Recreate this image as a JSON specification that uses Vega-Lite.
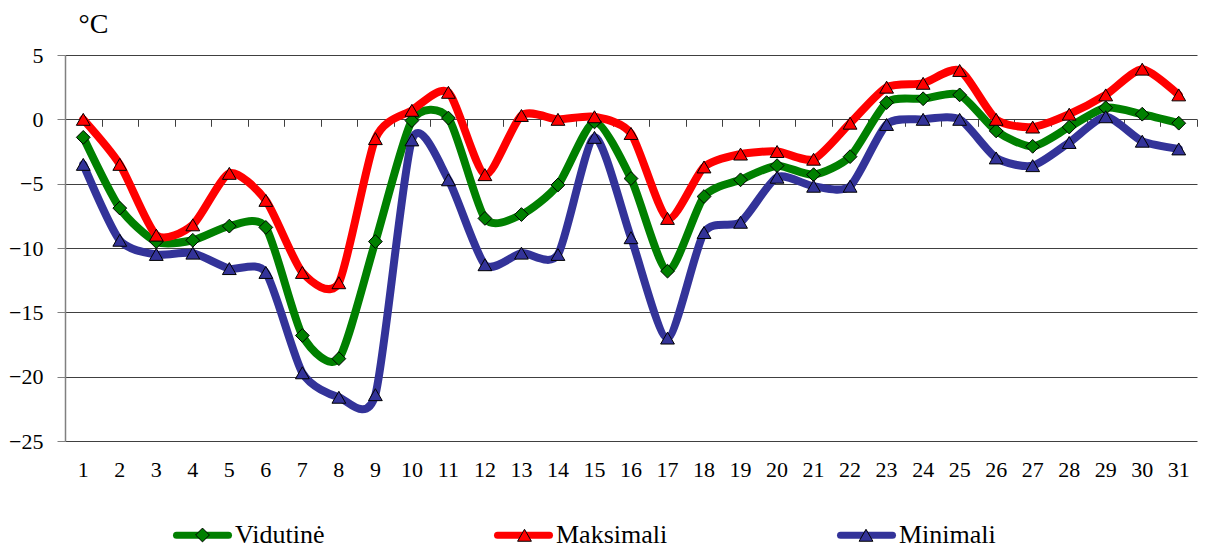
{
  "$schema": "https://vega.github.io/schema/vega-lite/v6.json",
  "width": 1132,
  "height": 386,
  "autosize": {"type": "none"},
  "padding": {"left": 65, "top": 55, "right": 10, "bottom": 111},
  "background": "white",
  "config": {"view": {"stroke": null}, "font": "Liberation Serif, Times New Roman, serif"},
  "data": {
    "values": [
      {"d": 1, "s": "Vidutinė", "t": -1.4}, {"d": 2, "s": "Vidutinė", "t": -6.9}, {"d": 3, "s": "Vidutinė", "t": -9.5}, {"d": 4, "s": "Vidutinė", "t": -9.4}, {"d": 5, "s": "Vidutinė", "t": -8.3}, {"d": 6, "s": "Vidutinė", "t": -8.4}, {"d": 7, "s": "Vidutinė", "t": -16.8}, {"d": 8, "s": "Vidutinė", "t": -18.6}, {"d": 9, "s": "Vidutinė", "t": -9.5}, {"d": 10, "s": "Vidutinė", "t": -0.1}, {"d": 11, "s": "Vidutinė", "t": 0.1}, {"d": 12, "s": "Vidutinė", "t": -7.7}, {"d": 13, "s": "Vidutinė", "t": -7.4}, {"d": 14, "s": "Vidutinė", "t": -5.1}, {"d": 15, "s": "Vidutinė", "t": -0.2}, {"d": 16, "s": "Vidutinė", "t": -4.6}, {"d": 17, "s": "Vidutinė", "t": -11.8}, {"d": 18, "s": "Vidutinė", "t": -6.0}, {"d": 19, "s": "Vidutinė", "t": -4.7}, {"d": 20, "s": "Vidutinė", "t": -3.6}, {"d": 21, "s": "Vidutinė", "t": -4.3}, {"d": 22, "s": "Vidutinė", "t": -2.9}, {"d": 23, "s": "Vidutinė", "t": 1.3}, {"d": 24, "s": "Vidutinė", "t": 1.6}, {"d": 25, "s": "Vidutinė", "t": 1.9}, {"d": 26, "s": "Vidutinė", "t": -0.9}, {"d": 27, "s": "Vidutinė", "t": -2.1}, {"d": 28, "s": "Vidutinė", "t": -0.6}, {"d": 29, "s": "Vidutinė", "t": 0.9}, {"d": 30, "s": "Vidutinė", "t": 0.4}, {"d": 31, "s": "Vidutinė", "t": -0.3},
      {"d": 1, "s": "Maksimali", "t": 0.0}, {"d": 2, "s": "Maksimali", "t": -3.5}, {"d": 3, "s": "Maksimali", "t": -9.0}, {"d": 4, "s": "Maksimali", "t": -8.2}, {"d": 5, "s": "Maksimali", "t": -4.2}, {"d": 6, "s": "Maksimali", "t": -6.3}, {"d": 7, "s": "Maksimali", "t": -11.9}, {"d": 8, "s": "Maksimali", "t": -12.7}, {"d": 9, "s": "Maksimali", "t": -1.5}, {"d": 10, "s": "Maksimali", "t": 0.7}, {"d": 11, "s": "Maksimali", "t": 2.1}, {"d": 12, "s": "Maksimali", "t": -4.3}, {"d": 13, "s": "Maksimali", "t": 0.3}, {"d": 14, "s": "Maksimali", "t": 0.0}, {"d": 15, "s": "Maksimali", "t": 0.2}, {"d": 16, "s": "Maksimali", "t": -1.1}, {"d": 17, "s": "Maksimali", "t": -7.7}, {"d": 18, "s": "Maksimali", "t": -3.7}, {"d": 19, "s": "Maksimali", "t": -2.7}, {"d": 20, "s": "Maksimali", "t": -2.5}, {"d": 21, "s": "Maksimali", "t": -3.1}, {"d": 22, "s": "Maksimali", "t": -0.3}, {"d": 23, "s": "Maksimali", "t": 2.5}, {"d": 24, "s": "Maksimali", "t": 2.8}, {"d": 25, "s": "Maksimali", "t": 3.8}, {"d": 26, "s": "Maksimali", "t": 0.0}, {"d": 27, "s": "Maksimali", "t": -0.6}, {"d": 28, "s": "Maksimali", "t": 0.4}, {"d": 29, "s": "Maksimali", "t": 1.9}, {"d": 30, "s": "Maksimali", "t": 3.9}, {"d": 31, "s": "Maksimali", "t": 1.9},
      {"d": 1, "s": "Minimali", "t": -3.5}, {"d": 2, "s": "Minimali", "t": -9.4}, {"d": 3, "s": "Minimali", "t": -10.5}, {"d": 4, "s": "Minimali", "t": -10.4}, {"d": 5, "s": "Minimali", "t": -11.6}, {"d": 6, "s": "Minimali", "t": -11.9}, {"d": 7, "s": "Minimali", "t": -19.7}, {"d": 8, "s": "Minimali", "t": -21.6}, {"d": 9, "s": "Minimali", "t": -21.4}, {"d": 10, "s": "Minimali", "t": -1.6}, {"d": 11, "s": "Minimali", "t": -4.7}, {"d": 12, "s": "Minimali", "t": -11.3}, {"d": 13, "s": "Minimali", "t": -10.4}, {"d": 14, "s": "Minimali", "t": -10.5}, {"d": 15, "s": "Minimali", "t": -1.4}, {"d": 16, "s": "Minimali", "t": -9.2}, {"d": 17, "s": "Minimali", "t": -17.0}, {"d": 18, "s": "Minimali", "t": -8.8}, {"d": 19, "s": "Minimali", "t": -8.0}, {"d": 20, "s": "Minimali", "t": -4.5}, {"d": 21, "s": "Minimali", "t": -5.2}, {"d": 22, "s": "Minimali", "t": -5.2}, {"d": 23, "s": "Minimali", "t": -0.4}, {"d": 24, "s": "Minimali", "t": 0.0}, {"d": 25, "s": "Minimali", "t": 0.0}, {"d": 26, "s": "Minimali", "t": -3.0}, {"d": 27, "s": "Minimali", "t": -3.6}, {"d": 28, "s": "Minimali", "t": -1.8}, {"d": 29, "s": "Minimali", "t": 0.2}, {"d": 30, "s": "Minimali", "t": -1.7}, {"d": 31, "s": "Minimali", "t": -2.3}
    ]
  },
  "layer": [
    {
      "mark": {"type": "line", "interpolate": "cardinal", "tension": 0.3, "strokeWidth": 8, "strokeCap": "round", "strokeJoin": "round"},
      "encoding": {
        "x": {
          "field": "d", "type": "ordinal",
          "scale": {"type": "band", "paddingInner": 0, "paddingOuter": 0},
          "axis": {"title": null, "labelAngle": 0, "ticks": false, "tickSize": 0, "domain": false, "grid": false, "labelFont": "Liberation Serif, Times New Roman, serif", "labelFontSize": 22, "labelColor": "black", "labelPadding": 18}
        },
        "y": {
          "field": "t", "type": "quantitative",
          "scale": {"domain": [-25, 5], "nice": false, "zero": false},
          "axis": {
            "values": [-25, -20, -15, -10, -5, 0, 5],
            "title": "°C", "titleAngle": 0, "titleAlign": "left", "titleBaseline": "alphabetic", "titleX": 13, "titleY": -23,
            "titleFont": "Liberation Serif, Times New Roman, serif", "titleFontSize": 28, "titleFontWeight": "normal", "titleColor": "black",
            "grid": true, "gridColor": "#404040", "gridOpacity": 1, "gridWidth": 1,
            "domainColor": "#808080", "domainWidth": 1.5, "tickColor": "#808080", "tickSize": 8, "tickWidth": 1,
            "labelFont": "Liberation Serif, Times New Roman, serif", "labelFontSize": 22, "labelColor": "black", "labelPadding": 14
          }
        },
        "stroke": {
          "field": "s", "type": "nominal",
          "scale": {"domain": ["Maksimali", "Minimali", "Vidutinė"], "range": ["#FF0000", "#333399", "#008000"]},
          "legend": {
            "title": null, "orient": "none", "legendX": 108, "legendY": 450.5, "direction": "horizontal", "columns": 3,
            "columnPadding": 158, "values": ["Vidutinė", "Maksimali", "Minimali"],
            "symbolType": "stroke", "symbolSize": 2704, "symbolStrokeWidth": 7,
            "labelFont": "Liberation Serif, Times New Roman, serif", "labelFontSize": 26, "labelColor": "black", "labelOffset": 3, "labelLimit": 400,
            "padding": 0, "zindex": 1,
            "encode": {"symbols": {"update": {"strokeCap": {"value": "round"}}}}
          }
        }
      }
    },
    {
      "mark": {"type": "point", "filled": true, "stroke": "black", "strokeWidth": 1, "size": 190, "opacity": 1},
      "encoding": {
        "x": {
          "field": "d", "type": "ordinal",
          "axis": {"title": null, "orient": "bottom", "offset": -321.7, "labels": false, "domain": false, "grid": false, "ticks": true, "tickSize": 7, "tickColor": "#404040", "tickWidth": 1, "tickBand": "extent",
            "encode": {"ticks": {"update": {"y": {"value": -7}}}}}
        },
        "y": {"field": "t", "type": "quantitative", "axis": null},
        "fill": {
          "field": "s", "type": "nominal",
          "scale": {"domain": ["Vidutinė", "Maksimali", "Minimali"], "range": ["#008000", "#FF0000", "#333399"]},
          "legend": {
            "title": null, "orient": "none", "legendX": 452, "legendY": 472.5, "direction": "horizontal", "columns": 2,
            "columnPadding": 322.5, "values": ["Maksimali", "Minimali"],
            "symbolType": "triangle-up", "symbolSize": 190, "symbolStrokeColor": "black", "symbolStrokeWidth": 1,
            "labelExpr": "''", "labelOffset": 0, "padding": 0, "zindex": 2,
            "encode": {"symbols": {"update": {"stroke": {"value": "black"}}}}
          }
        },
        "shape": {
          "field": "s", "type": "nominal",
          "scale": {"domain": ["Minimali", "Maksimali", "Vidutinė"], "range": ["triangle-up", "triangle-up", "diamond"]},
          "legend": {
            "title": null, "orient": "none", "legendX": 130, "legendY": 472.5, "values": ["Vidutinė"],
            "symbolSize": 190, "symbolFillColor": "#008000", "symbolStrokeColor": "black", "symbolStrokeWidth": 1,
            "labelExpr": "''", "labelOffset": 0, "padding": 0, "zindex": 2,
            "encode": {"symbols": {"update": {"fill": {"value": "#008000"}, "stroke": {"value": "black"}}}}
          }
        }
      }
    }
  ],
  "resolve": {"axis": {"x": "independent", "y": "independent"}}
}
